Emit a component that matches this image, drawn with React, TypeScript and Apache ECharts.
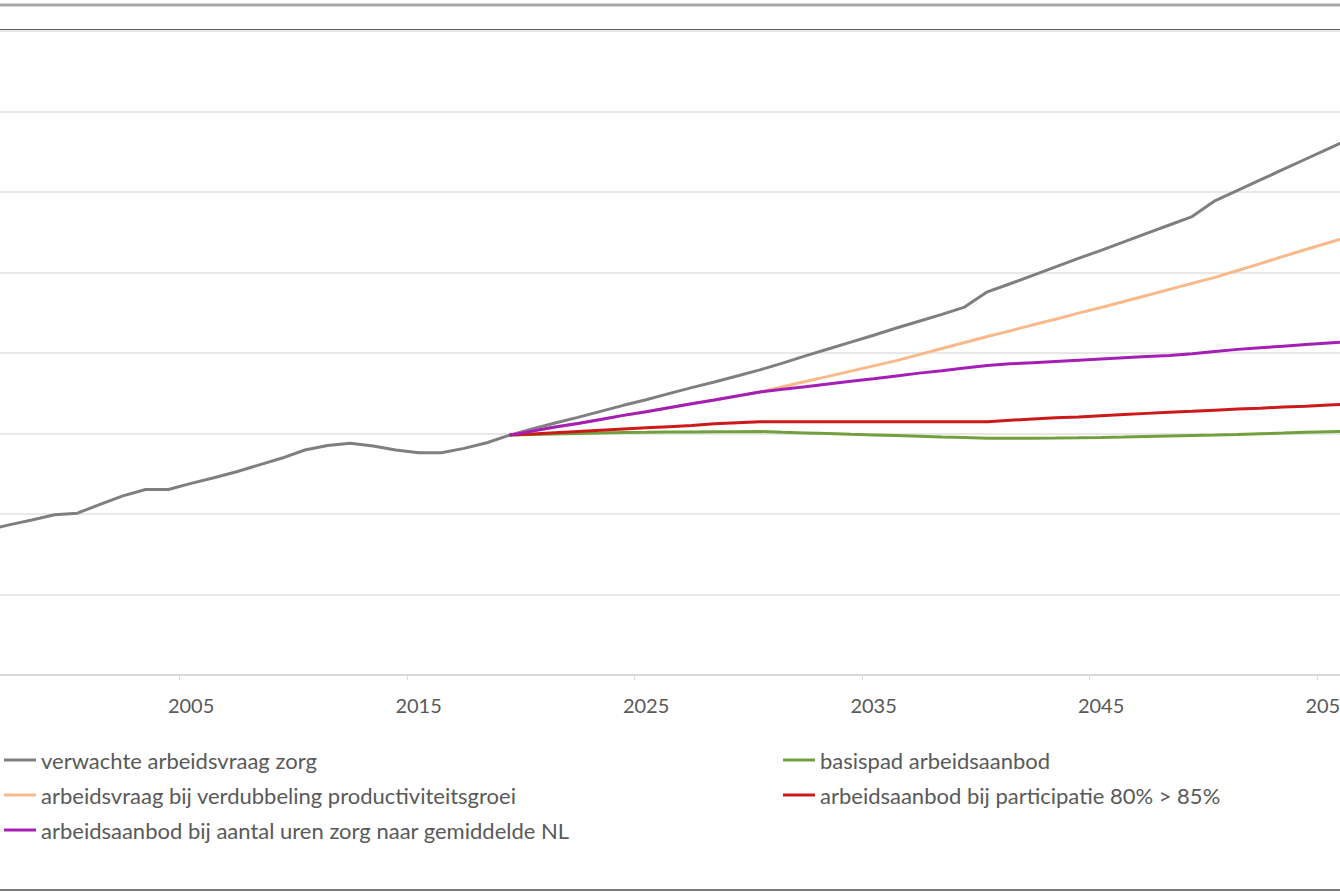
import React, { useEffect, useRef } from "react";
import * as echarts from "echarts";

const grayYears = [1996, 1997, 1998, 1999, 2000, 2001, 2002, 2003, 2004, 2005, 2006, 2007, 2008, 2009, 2010, 2011, 2012, 2013, 2014, 2015, 2016, 2017, 2018, 2019, 2020, 2021, 2022, 2023, 2024, 2025, 2026, 2027, 2028, 2029, 2030, 2031, 2032, 2033, 2034, 2035, 2036, 2037, 2038, 2039, 2040, 2041, 2042, 2043, 2044, 2045, 2046, 2047, 2048, 2049, 2050, 2051, 2052, 2053, 2054, 2055, 2056];
const grayValues = [760, 773, 785, 798, 802, 824, 845, 861, 861, 876, 890, 905, 922, 939, 959, 970, 976, 969, 959, 952, 952, 963, 977, 996, 1011, 1026, 1040, 1055, 1070, 1084, 1099, 1114, 1128, 1143, 1158, 1175, 1193, 1210, 1227, 1244, 1262, 1279, 1296, 1314, 1352, 1372, 1393, 1414, 1435, 1455, 1476, 1497, 1518, 1539, 1578, 1604, 1630, 1656, 1682, 1708, 1734];

const forecastYears = [2019, 2020, 2021, 2022, 2023, 2024, 2025, 2026, 2027, 2028, 2029, 2030, 2031, 2032, 2033, 2034, 2035, 2036, 2037, 2038, 2039, 2040, 2041, 2042, 2043, 2044, 2045, 2046, 2047, 2048, 2049, 2050, 2051, 2052, 2053, 2054, 2055, 2056];
const orangeValues = [996, 1006, 1016, 1025, 1035, 1045, 1054, 1064, 1074, 1083, 1093, 1103, 1116, 1129, 1142, 1155, 1168, 1181, 1196, 1211, 1226, 1241, 1255, 1270, 1284, 1299, 1313, 1328, 1343, 1358, 1373, 1388, 1405, 1422, 1440, 1457, 1474, 1491];
const purpleValues = [996, 1006, 1016, 1025, 1035, 1045, 1054, 1064, 1074, 1083, 1093, 1103, 1110, 1116, 1123, 1130, 1136, 1143, 1150, 1156, 1163, 1169, 1173, 1176, 1179, 1182, 1185, 1188, 1191, 1194, 1198, 1204, 1209, 1213, 1217, 1221, 1225, 1229];
const redValues = [996, 999, 1002, 1005, 1008, 1011, 1014, 1017, 1020, 1024, 1027, 1029, 1029, 1029, 1029, 1029, 1029, 1029, 1029, 1029, 1029, 1029, 1033, 1036, 1039, 1041, 1044, 1047, 1050, 1053, 1055, 1058, 1061, 1063, 1066, 1068, 1071, 1073];
const greenValues = [996, 997.5, 999, 1000, 1001, 1002.5, 1003, 1004, 1004, 1004.5, 1004.5, 1005, 1003, 1001.5, 1000, 998, 996.5, 995, 993, 991, 990, 988, 988, 988.5, 988.8, 989.3, 990, 991, 992.5, 993.8, 995, 996, 997.5, 999.3, 1001, 1003, 1004.5, 1006];

const xLabelYears = [2005, 2015, 2025, 2035, 2045, 2055];
const xTickPositions = [2004.5, 2014.5, 2024.5, 2034.5, 2044.5, 2054.5];

const seriesNames = [
  "verwachte arbeidsvraag zorg",
  "arbeidsvraag bij verdubbeling productiviteitsgroei",
  "basispad arbeidsaanbod",
  "arbeidsaanbod bij participatie 80% > 85%",
  "arbeidsaanbod bij aantal uren zorg naar gemiddelde NL",
];
const seriesColors = ["#7f7f7f", "#f9b98a", "#72a03f", "#cc1a1a", "#a41fb5"];

const pairs = (xs: number[], ys: number[]) => xs.map((x, i) => [x, ys[i]]);

export default function App() {
  const ref = useRef<HTMLDivElement>(null);
  useEffect(() => {
    if (!ref.current) return;
    const chart = echarts.init(ref.current, undefined, { renderer: "svg" });
    const font = "Lato, 'Noto Sans', sans-serif";
    const dataSets = [
      pairs(grayYears, grayValues),
      pairs(forecastYears, orangeValues),
      pairs(forecastYears, greenValues),
      pairs(forecastYears, redValues),
      pairs(forecastYears, purpleValues),
    ];
    const legendText = { color: "#595959", fontSize: 22, fontFamily: font, lineHeight: 24 };
    chart.setOption({
      animation: false,
      backgroundColor: "#ffffff",
      grid: { left: 0, right: 0, top: 31, bottom: 218, containLabel: false, outerBoundsMode: "none" },
      xAxis: {
        type: "value",
        min: 1996.6,
        max: 2055.5,
        axisLine: { show: true, lineStyle: { color: "#d9d9d9", width: 2 } },
        axisTick: {
          show: true,
          customValues: xTickPositions,
          length: 5,
          lineStyle: { color: "#d9d9d9", width: 1 },
        },
        axisLabel: {
          show: true,
          customValues: xLabelYears,
          formatter: (v: number) => String(Math.round(v)),
          color: "#595959",
          fontSize: 20,
          fontFamily: font,
          margin: 20,
          hideOverlap: false,
        },
        splitLine: { show: false },
      },
      yAxis: {
        type: "value",
        min: 400,
        max: 2000,
        interval: 200,
        axisLine: { show: false },
        axisTick: { show: false },
        axisLabel: { show: false },
        splitLine: { show: true, lineStyle: { color: "#e8e8e8", width: 2 } },
      },
      legend: [
        {
          data: [seriesNames[0], seriesNames[1], seriesNames[4]],
          orient: "vertical",
          left: 4,
          top: 748,
          padding: 0,
          icon: "rect",
          itemWidth: 32,
          itemHeight: 3,
          itemGap: 11,
          textStyle: legendText,
        },
        {
          data: [seriesNames[2], seriesNames[3]],
          orient: "vertical",
          left: 783,
          top: 748,
          padding: 0,
          icon: "rect",
          itemWidth: 32,
          itemHeight: 3,
          itemGap: 11,
          textStyle: legendText,
        },
      ],
      series: dataSets.map((d, i) => ({
        name: seriesNames[i],
        type: "line",
        data: d,
        showSymbol: false,
        symbol: "none",
        color: seriesColors[i],
        lineStyle: { color: seriesColors[i], width: 3 },
        clip: true,
      })),
      graphic: [
        { type: "line", shape: { x1: 0, y1: 5, x2: 1340, y2: 5 }, style: { stroke: "#a6a6a6", lineWidth: 3 } },
        { type: "line", shape: { x1: 0, y1: 30, x2: 1340, y2: 30 }, style: { stroke: "#5f5f5f", lineWidth: 2 } },
        { type: "line", shape: { x1: 0, y1: 890, x2: 1340, y2: 890 }, style: { stroke: "#7a7a7a", lineWidth: 2 } },
      ],
    });
    return () => chart.dispose();
  }, []);
  return (
    <div
      ref={ref}
      style={{ position: "absolute", left: 0, top: 0, width: 1340, height: 893 }}
    />
  );
}
